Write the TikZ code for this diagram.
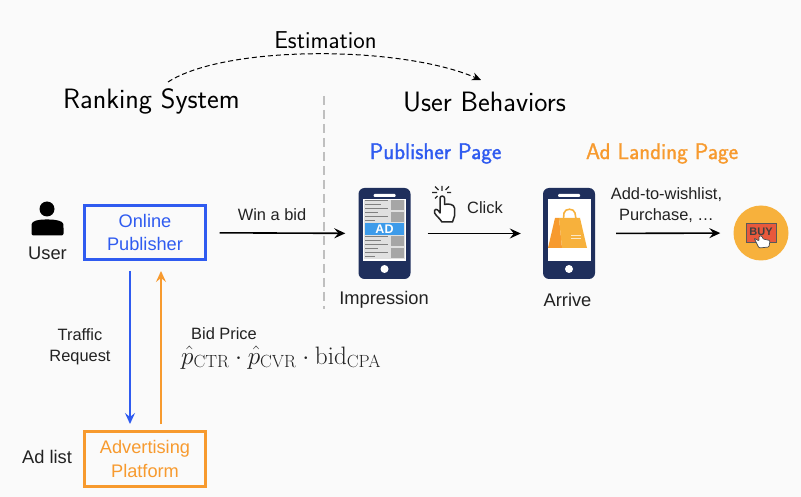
\documentclass[tikz,border=0pt]{standalone}
\usepackage{fix-cm}
\usepackage{amsmath,amssymb}
\usepackage[no-math]{fontspec}
\setmainfont{Liberation Sans}
\setsansfont{Latin Modern Sans}
\newfontfamily\pagefont[FakeBold=1.3]{Latin Modern Sans}
\usetikzlibrary{arrows.meta}

\definecolor{pubblue}{HTML}{2F5BF0}
\definecolor{adorange}{HTML}{F79A2E}
\definecolor{phonenavy}{HTML}{1F2F5C}
\definecolor{textgray}{HTML}{222222}
\definecolor{buyorange}{HTML}{F7B13C}
\definecolor{adband}{HTML}{3D9BEA}
\definecolor{buyred}{HTML}{E8593C}

\tikzset{
  flowarrow/.style = {-{Stealth[length=11pt,width=10pt,inset=4pt]}, line width=1.6pt, black},
  labeltext/.style = {text=textgray, font=\fontsize{16.4}{20.5}\selectfont, align=center, inner sep=0pt},
  nametext/.style = {text=textgray, font=\fontsize{18.3}{22}\selectfont, align=center, inner sep=0pt},
  headtext/.style = {text=black, font=\sffamily\fontsize{28}{32}\selectfont, inner sep=0pt},
  pagetext/.style = {font=\pagefont\fontsize{22.6}{25}\selectfont, inner sep=0pt},
  boxnode/.style = {draw, line width=2.4pt, minimum width=121pt, minimum height=54pt, inner sep=0pt,
    align=center, font=\fontsize{18.2}{23.5}\selectfont},
  phonenode/.style = {fill=phonenavy, rounded corners=6pt, minimum width=52pt, minimum height=91pt, inner sep=0pt}
}

\newcommand{\phoneparts}[1]{
  \fill[white] (#1.center) ++(-21.5,-34.5) rectangle ++(43,62);
  \fill[white, rounded corners=1pt] (#1.center) ++(-11,-39.5) rectangle ++(22,3);
  \fill[white] (#1.center) ++(0,35.5) circle (4);
}

\begin{document}
\begin{tikzpicture}[x=1pt, y=-1pt]
  \useasboundingbox[fill=black!2] (0,0) rectangle (801,497);

  % headings
  \node[headtext] (ranking) at (151.5,101) {Ranking System};
  \node[headtext] (behaviors) at (484.5,102.5) {User Behaviors};
  \node[headtext, font=\sffamily\fontsize{24.4}{28}\selectfont] (estimation) at (325.5,40.5) {Estimation};
  \node[pagetext, text=pubblue] (pubpage) at (435.5,153.5) {Publisher Page};
  \node[pagetext, text=adorange] (landpage) at (662,153.5) {Ad Landing Page};

  \coordinate (estleft) at (168,82);
  \coordinate (estright) at (481,80);
  \draw[line width=1pt, dash pattern=on 5pt off 3pt, -{Stealth[length=9pt,width=8pt,inset=3pt]}] (estleft) .. controls (225,45) and (400,45) .. (estright);

  \coordinate (splittop) at (324,96);
  \coordinate (splitbot) at (324,309);
  \draw[black!25, line width=1.6pt, dash pattern=on 9pt off 5pt] (splittop) -- (splitbot);

  % left column
  \fill[black] (47,209) circle (7.5);
  \fill[black, rounded corners=2pt] (31.5,235.5) -- (31.5,226) .. controls (32,221) and (38,219.5) .. (47,219.5)
    .. controls (56,219.5) and (63,221) .. (63.5,226) -- (63.5,235.5) -- cycle;
  \node[nametext] (user) at (47.5,253) {User};
  \node[nametext] (adlist) at (47,457) {Ad list};

  \node[boxnode, draw=pubblue, text=pubblue] (publisher) at (145,232.5) {Online\\Publisher};
  \node[boxnode, draw=adorange, text=adorange, minimum height=55pt] (platform) at (145,459) {Advertising\\Platform};

  \coordinate (blueup) at (130,260);
  \coordinate (bluedown) at (130,431);
  \coordinate (orangeup) at (161,260);
  \coordinate (orangedown) at (161,431);
  \draw[flowarrow, draw=pubblue, -{Stealth[length=11pt,width=10pt,inset=4pt,fill=pubblue]}, shorten <=11pt, shorten >=7pt] (blueup) -- (bluedown);
  \draw[flowarrow, draw=adorange, -{Stealth[length=11pt,width=10pt,inset=4pt,fill=adorange]}, shorten <=7pt, shorten >=11pt] (orangedown) -- (orangeup);

  \node[labeltext] (traffic) at (80,347) {Traffic\\Request};
  \node[labeltext, anchor=west] (bidprice) at (191,333.5) {Bid Price};
  \node[inner sep=0pt, anchor=west, text=textgray, font=\fontsize{25.2}{28}\selectfont] (formula) at (181,364)
    {\smash{$\hat{p}_{\mathrm{CTR}} \cdot \hat{p}_{\mathrm{CVR}} \cdot \mathrm{bid}_{\mathrm{CPA}}$}};

  % impression phone
  \node[phonenode] (impression) at (384.5,233.5) {};
  \phoneparts{impression}
  \fill[black!12] (364,200) rectangle (405,259);
  \foreach \boxtop in {200,212,236,248}
    \fill[black!35] (391,\boxtop) rectangle (404,\boxtop+10.5);
  \foreach \liney/\lineend in {201/388,205/381,209/388,213/378,217/388,221/375,237/388,241/381,245/388,249/378,253/388,257/375}
    \draw[black!50, line width=1pt] (365,\liney) -- (\lineend,\liney);
  \fill[adband] (365,223.5) rectangle (404,235);
  \node[inner sep=0pt, text=white, font=\bfseries\fontsize{12.5}{14}\selectfont] (adtag) at (384.5,229.5) {AD};
  \node[nametext] (imprlabel) at (384,300) {Impression};

  % click icon
  \draw[line width=1.5pt, black!85, line join=round, fill=white]
    (442,222) .. controls (439,217) and (433,214) .. (434.5,210.5) .. controls (436,208) and (438.5,210) .. (440,213)
    -- (440,198) .. controls (440,195.5) and (444.5,195.5) .. (444.5,198) -- (444.5,204.5)
    .. controls (448,203.5) and (454,204) .. (454.5,208) -- (454.5,216) -- (452.5,222) -- cycle;
  \draw[line width=1.4pt, black!85] (442,186) -- (442,191) (432,192.5) -- (437,192.5) (447,192.5) -- (451,192.5)
    (435,186.5) -- (438.5,190) (449,186.5) -- (445.5,190) (435,198.5) -- (437.5,196);
  \node[labeltext] (clicklabel) at (485,208) {Click};

  % arrive phone
  \node[phonenode] (arrive) at (569,233.5) {};
  \phoneparts{arrive}
  \draw[buyorange, line width=1.6pt] (563.5,219) -- (564,213) .. controls (565,208) and (574,208) .. (575,213) -- (576,219);
  \fill[adorange] (555,218) -- (559,218) -- (562,248) -- (548,248) -- cycle;
  \fill[buyorange] (559,218) -- (580,218) -- (587,248) -- (562,248) -- cycle;
  \draw[white, line width=0.8pt, opacity=0.7] (571,235) -- (581,235) (571,238) -- (581,238);
  \node[nametext] (arrivelabel) at (567.5,300) {Arrive};

  % buy icon
  \node[circle, fill=buyorange, minimum size=55pt, inner sep=0pt] (buy) at (761,233) {};
  \draw[black!65, fill=buyred, line width=0.9pt] (746,223) rectangle (776,242);
  \node[inner sep=0pt, text=black!75, font=\bfseries\fontsize{11}{12}\selectfont] (buytext) at (761,231.5) {BUY};
  \fill[white, draw=black!70, line width=0.7pt, rounded corners=1pt] (754,238) -- (759,241) -- (759,236) -- (762,236) -- (763,239)
    -- (770,240.5) -- (769,247) -- (759,248) -- cycle;

  % connectors
  \draw[flowarrow, shorten <=13pt, shorten >=13pt] (publisher) -- (impression);
  \draw[flowarrow, shorten <=17pt, shorten >=22pt] (impression) -- (arrive);
  \draw[flowarrow, shorten <=21pt, shorten >=13pt] (arrive) -- (buy);

  \node[labeltext] (winbid) at (272,215) {Win a bid};
  \node[labeltext] (actions) at (666.5,205) {Add-to-wishlist,\\Purchase, \dots};
\end{tikzpicture}
\end{document}
